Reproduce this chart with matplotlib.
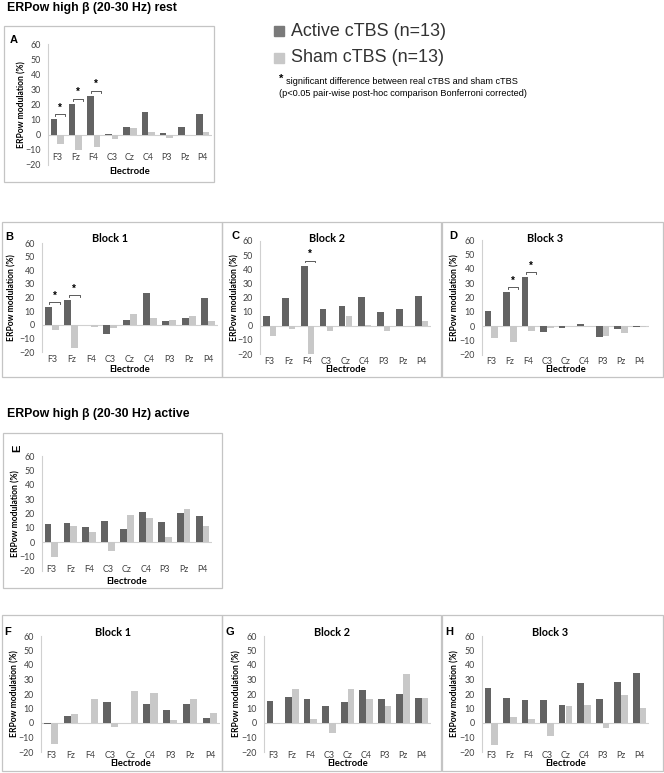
import matplotlib
matplotlib.use("Agg")
import matplotlib.pyplot as plt
import matplotlib.transforms as mtransforms
from matplotlib.patches import Rectangle
import numpy as np

W, H = 664, 773

electrodes = ["F3", "Fz", "F4", "C3", "Cz", "C4", "P3", "Pz", "P4"]

# rest condition
rest_all_active = [10.1, 20.3, 25.6, 0.3, 5.4, 15.0, 1.0, 5.0, 13.4]
rest_all_sham = [-6.4, -10.1, -8.0, -2.6, 4.6, 1.5, -2.2, 0.0, 2.0]
rest_b1_active = [13.2, 18.2, 0.0, -7.1, 3.6, 23.0, 2.4, 4.9, 19.9]
rest_b1_sham = [-3.5, -16.8, -1.5, -2.5, 7.8, 5.0, 3.8, 6.5, 2.8]
rest_b2_active = [6.6, 19.5, 42.6, 12.0, 14.1, 20.7, 9.6, 11.8, 21.2]
rest_b2_sham = [-7.0, -2.6, -20.0, -3.5, 6.6, 0.3, -3.5, 0.0, 3.5]
rest_b3_active = [10.8, 23.6, 34.0, -4.2, -1.5, 1.5, -7.7, -1.8, -0.8]
rest_b3_sham = [-8.4, -11.2, -3.0, -1.5, 0.0, 0.5, -6.5, -5.0, -0.5]

# active condition
act_all_active = [12.8, 13.2, 10.7, 14.6, 9.3, 21.1, 14.2, 20.4, 18.3]
act_all_sham = [-10.2, 11.6, 7.4, -6.3, 19.0, 16.7, 3.7, 23.2, 11.4]
act_b1_active = [-1.0, 4.8, -0.3, 14.5, 0.3, 13.4, 9.0, 13.1, 3.2]
act_b1_sham = [-14.3, 6.5, 16.4, -3.0, 21.9, 21.0, 2.0, 16.8, 6.9]
act_b2_active = [15.0, 18.0, 16.4, 12.0, 14.7, 22.6, 16.8, 20.3, 17.0]
act_b2_sham = [-0.8, 23.7, 3.0, -6.9, 23.7, 16.8, 12.0, 33.6, 17.0]
act_b3_active = [24.2, 17.5, 16.1, 16.1, 12.2, 27.6, 16.8, 28.1, 34.3]
act_b3_sham = [-15.2, 4.4, 3.0, -9.2, 11.5, 12.2, -3.2, 19.4, 10.1]

# electrodes with a significant active vs sham difference
sig_A = [0, 1, 2]
sig_B = [0, 1]
sig_C = [2]
sig_D = [1, 2]

ACTIVE = "#636363"
SHAM = "#c8c8c8"
FRAME = "#c4c4c4"
AXCOL = "#d0d0d0"
TXT = "#404040"
CHART_FONT = ["Lato", "DejaVu Sans"]
ARIAL = ["Liberation Sans", "DejaVu Sans"]

fig = plt.figure(figsize=(W / 100, H / 100), dpi=100)


def fx(x):
    return x / W


def fy(y):
    return 1 - y / H


def frame(x0, y0, x1, y1):
    fig.patches.append(Rectangle((fx(x0), fy(y1)), fx(x1 - x0), (y1 - y0) / H,
                                 transform=fig.transFigure, fill=False,
                                 edgecolor=FRAME, linewidth=0.9))


def panel(x0, x1, ytop, ybot, active, sham, letter, letter_xy, lab_y, elec_y,
          ylab_x, title=None, title_xy=None, sig=(), letter_rot=0):
    ax = fig.add_axes([fx(x0), fy(ybot), fx(x1 - x0), (ybot - ytop) / H])
    x = np.arange(len(electrodes))
    w = 0.36
    ax.bar(x - w / 2, active, w, color=ACTIVE, zorder=2)
    ax.bar(x + w / 2, sham, w, color=SHAM, zorder=2)
    ax.axhline(0, color=AXCOL, linewidth=0.8, zorder=1)
    ax.set_xlim(-0.5, len(electrodes) - 0.5)
    ax.set_ylim(-20, 60)
    ax.set_yticks(range(-20, 61, 10))
    ax.set_xticks([])
    for s in ["top", "right", "bottom"]:
        ax.spines[s].set_visible(False)
    ax.spines["left"].set_color(AXCOL)
    ax.spines["left"].set_linewidth(0.8)
    ax.tick_params(length=0, labelsize=6.4, colors=TXT, pad=5)
    for lab in ax.get_yticklabels():
        lab.set_family(CHART_FONT)
    ax.set_facecolor("none")

    # category labels and axis titles placed in figure pixel rows
    trans = mtransforms.blended_transform_factory(ax.transData, fig.transFigure)
    for i, name in enumerate(electrodes):
        ax.text(i, fy(lab_y), name, transform=trans, ha="center", va="center",
                fontsize=6.4, family=CHART_FONT, color=TXT)
    fig.text(fx((x0 + x1) / 2), fy(elec_y), "Electrode", fontsize=6.8,
             fontweight="bold", family=CHART_FONT, ha="center", va="center")
    fig.text(fx(ylab_x), fy((ytop + ybot) / 2), "ERPow modulation (%)",
             fontsize=6.2, fontweight="bold", family=CHART_FONT, ha="center",
             va="center", rotation=90)

    for i in sig:
        top = active[i] + 3.5
        l, r = i - 0.12, i + 0.42
        ax.plot([l, l, r, r], [top - 1.3, top, top, top - 1.3], color=TXT,
                linewidth=0.6, zorder=3)
        ax.text((l + r) / 2, top + 1.0, "*", ha="center", va="bottom",
                fontsize=7, fontweight="bold", family=ARIAL)
    fig.text(fx(letter_xy[0]), fy(letter_xy[1]), letter, fontsize=8,
             fontweight="bold", family=ARIAL, ha="center", va="center",
             rotation=letter_rot)
    if title:
        fig.text(fx(title_xy[0]), fy(title_xy[1]), title, fontsize=7.8,
                 fontweight="bold", family=CHART_FONT, ha="center", va="center")
    return ax


# section titles
fig.text(fx(7), fy(8), "ERPow high \u03b2 (20-30 Hz) rest", fontsize=8.8,
         fontweight="bold", family=ARIAL, va="center")
fig.text(fx(7), fy(414), "ERPow high \u03b2 (20-30 Hz) active", fontsize=8.8,
         fontweight="bold", family=ARIAL, va="center")

# legend
fig.patches.append(Rectangle((fx(274), fy(36)), fx(10), 10 / H,
                             transform=fig.transFigure, color="#7a7a7a"))
fig.patches.append(Rectangle((fx(274), fy(63)), fx(10), 10 / H,
                             transform=fig.transFigure, color=SHAM))
fig.text(fx(291), fy(31), "Active cTBS (n=13)", fontsize=12.9, family=ARIAL,
         va="center", color="#333333")
fig.text(fx(291), fy(57), "Sham cTBS (n=13)", fontsize=12.9, family=ARIAL,
         va="center", color="#333333")
fig.text(fx(279), fy(79), "*", fontsize=8, fontweight="bold", family=ARIAL,
         va="center")
fig.text(fx(286), fy(82), "significant difference between real cTBS and sham cTBS",
         fontsize=6.6, family=ARIAL, va="center")
fig.text(fx(279), fy(93),
         "(p<0.05 pair-wise post-hoc comparison Bonferroni corrected)",
         fontsize=6.6, family=ARIAL, va="center")

# frames
frame(4, 26, 214, 182)
frame(2, 222, 222, 377)
frame(222, 222, 441, 377)
frame(442, 222, 663, 377)
frame(3, 433, 222, 588)
frame(2, 615, 222, 771)
frame(222, 615, 441, 771)
frame(442, 615, 663, 771)

panel(48, 212, 44, 165, rest_all_active, rest_all_sham, "A", (14, 40),
      158, 172, 22, sig=sig_A)
panel(42, 218, 243, 352, rest_b1_active, rest_b1_sham, "B", (9, 237),
      360, 370, 12, "Block 1", (110, 238), sig=sig_B)
panel(260, 431, 241, 354, rest_b2_active, rest_b2_sham, "C", (235, 236),
      361, 370, 235, "Block 2", (327, 238), sig=sig_C)
panel(482, 649, 240, 355, rest_b3_active, rest_b3_sham, "D", (453, 236),
      361, 370, 455, "Block 3", (545, 238), sig=sig_D)
panel(42, 212, 456, 571, act_all_active, act_all_sham, "E", (17, 448),
      569, 582, 16, letter_rot=90)
panel(41, 220, 636, 752, act_b1_active, act_b1_sham, "F", (8, 632),
      755, 764, 15, "Block 1", (113, 632))
panel(264, 431, 636, 752, act_b2_active, act_b2_sham, "G", (230, 632),
      755, 764, 237, "Block 2", (332, 632))
panel(482, 649, 636, 752, act_b3_active, act_b3_sham, "H", (449, 632),
      755, 764, 455, "Block 3", (550, 632))

fig.savefig("out.png", dpi=100)
